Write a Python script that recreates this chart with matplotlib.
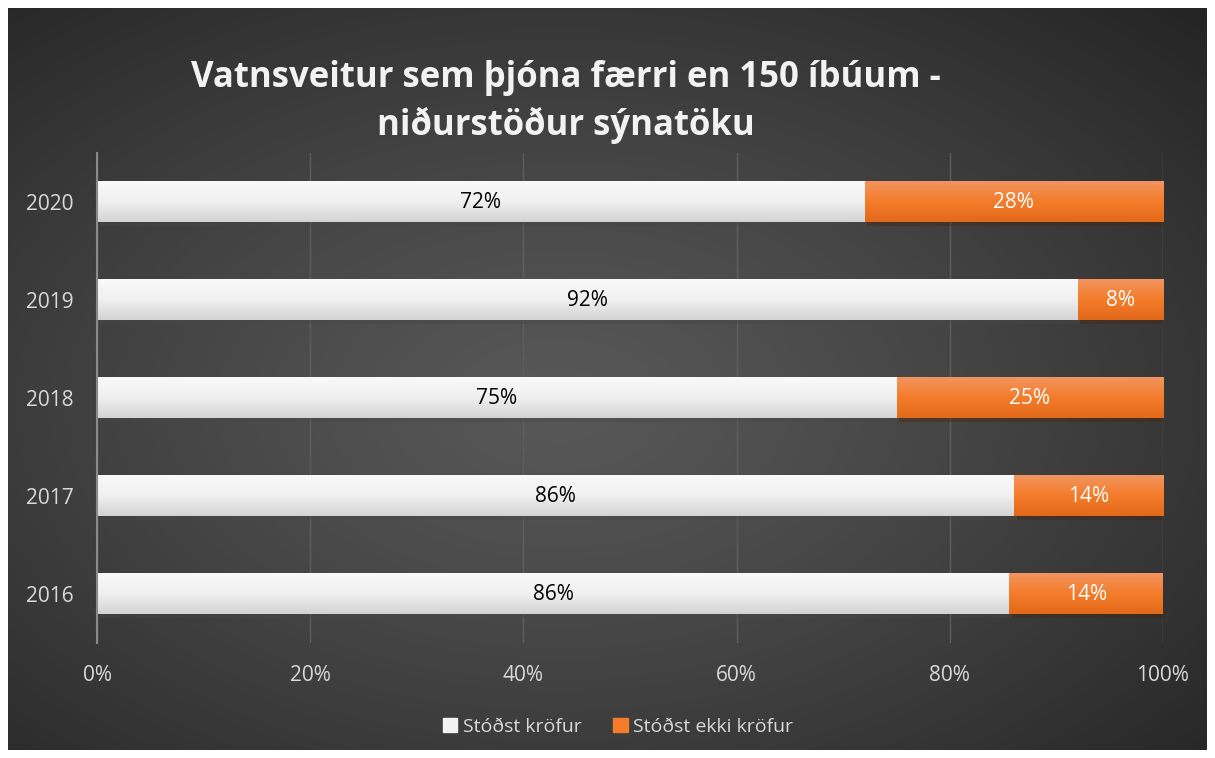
import numpy as np
import matplotlib.pyplot as plt
from matplotlib.colors import LinearSegmentedColormap
import matplotlib.patheffects as pe

years = ["2016", "2017", "2018", "2019", "2020"]
passed = [85.6, 86, 75, 92, 72]
failed = [14.4, 14, 25, 8, 28]
passed_labels = ["86%", "86%", "75%", "92%", "72%"]
failed_labels = ["14%", "14%", "25%", "8%", "28%"]
x_ticks = [0, 20, 40, 60, 80, 100]

plt.rcParams["font.family"] = ["Open Sans", "DejaVu Sans"]

W, H = 1215, 758
fig = plt.figure(figsize=(W / 100, H / 100), dpi=100)
fig.patch.set_facecolor("white")

# dark radial background
bg = fig.add_axes([8 / W, 8 / H, (1207 - 8) / W, (750 - 8) / H], zorder=0)
yy, xx = np.mgrid[0:300, 0:480]
cx, cy = 220, 160
r = np.sqrt(((xx - cx) / 480) ** 2 + ((yy - cy) / 300) ** 2)
r = r / r.max()
shade = 0x58 - (0x58 - 0x24) * r ** 1.2
rgb = np.dstack([shade, shade, shade]) / 255
bg.imshow(rgb, aspect="auto", interpolation="bilinear")
bg.axis("off")

ax = fig.add_axes([97 / W, 1 - 643 / H, (1163 - 97) / W, (643 - 153) / H], zorder=1)
ax.set_facecolor("none")

white_cm = LinearSegmentedColormap.from_list("w", ["#f9f9f9", "#f0f0f0", "#d4d4d4"])
orange_cm = LinearSegmentedColormap.from_list("o", ["#f29460", "#f47c2a", "#e3691a"])
grad = np.linspace(0, 1, 64).reshape(-1, 1)

ypos = np.arange(len(years))
bh = 0.41
shadow = [pe.SimplePatchShadow(offset=(2, -3), alpha=0.4), pe.Normal()]
b1 = ax.barh(ypos, passed, height=bh, color="#eeeeee", zorder=2, path_effects=shadow)
b2 = ax.barh(ypos, failed, left=passed, height=bh, color="#f47c2a", zorder=2,
             path_effects=shadow)

for bars, cm in [(b1, white_cm), (b2, orange_cm)]:
    for b in bars:
        x0, y0 = b.get_x(), b.get_y()
        ax.imshow(grad, cmap=cm, aspect="auto", zorder=3,
                  extent=[x0, x0 + b.get_width(), y0, y0 + b.get_height()])

for i in range(len(years)):
    ax.text(passed[i] / 2, ypos[i], passed_labels[i], ha="center", va="center",
            color="black", fontsize=15, zorder=4)
    ax.text(passed[i] + failed[i] / 2, ypos[i], failed_labels[i], ha="center",
            va="center", color="white", fontsize=15, zorder=4)

ax.set_xlim(0, 100)
ax.set_ylim(-0.5, len(years) - 0.5)
ax.set_xticks(x_ticks)
ax.set_xticklabels([f"{t}%" for t in x_ticks])
ax.set_yticks(ypos)
ax.set_yticklabels(years)
ax.tick_params(axis="both", length=0, colors="#d9d9d9", labelsize=15)
ax.tick_params(axis="x", pad=16)
ax.tick_params(axis="y", pad=17)
ax.grid(axis="x", color="#5e5e5e", linewidth=1, zorder=1)
for s in ["top", "right", "bottom"]:
    ax.spines[s].set_visible(False)
ax.spines["left"].set_color("#8a8a8a")
ax.spines["left"].set_linewidth(1.5)
ax.spines["left"].set_zorder(5)

title_kw = dict(ha="center", va="center", color="#f2f2f2", fontsize=25,
                fontweight="bold")
fig.text(566 / W, 1 - 78 / H, "Vatnsveitur sem þjóna færri en 150 íbúum -", **title_kw)
fig.text(566 / W, 1 - 125 / H, "niðurstöður sýnatöku", **title_kw)

h1 = plt.Rectangle((0, 0), 1, 1, color="#f2f2f2")
h2 = plt.Rectangle((0, 0), 1, 1, color="#f47c2a")
fig.legend([h1, h2], ["Stóðst kröfur", "Stóðst ekki kröfur"], loc="center",
           bbox_to_anchor=(618 / W, 1 - 727 / H), ncol=2, frameon=False,
           labelcolor="#d9d9d9", fontsize=14, handlelength=0.75, handleheight=0.75,
           handletextpad=0.3, columnspacing=1.6)

fig.savefig("out.png", dpi=100, facecolor="white")
